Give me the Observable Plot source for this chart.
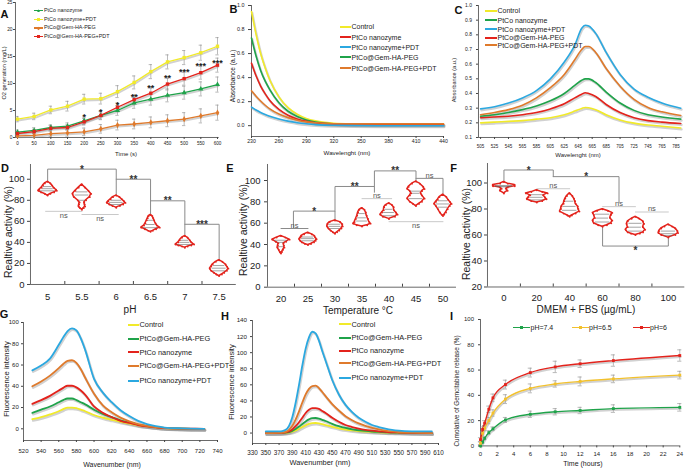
<!DOCTYPE html>
<html><head><meta charset="utf-8">
<script src="https://cdn.jsdelivr.net/npm/d3@7"></script>
<script src="https://cdn.jsdelivr.net/npm/@observablehq/plot@0.6"></script>
<style>
body{margin:0;background:#fff;}
#root{position:relative;width:685px;height:470px;overflow:hidden;background:#fff;font-family:"Liberation Sans",Arial,sans-serif;color:#222;}
.t,.lg{position:absolute;white-space:nowrap;line-height:1;}
</style></head><body><div id="root"></div>
<script>
// ---------------- DATA ----------------
// Panel A: O2 generation
const timeA = [0,50,100,150,200,250,300,350,400,450,500,550,600];
const o2Nanozyme    = [1.0,1.3,1.85,2.1,3.1,4.1,5.0,6.4,7.1,7.8,8.3,9.0,9.8];
const o2NanozymePDT = [3.4,3.9,5.1,5.8,7.1,7.2,8.5,10.2,12.2,14.0,14.8,15.7,16.9];
const o2Gem         = [0.3,0.4,0.7,0.85,1.05,1.6,2.3,2.5,2.8,3.1,3.4,4.0,4.6];
const o2GemPDT      = [0.74,1.1,1.7,1.85,2.9,4.1,5.6,7.0,8.2,9.9,10.9,12.0,13.4];
const errNanozyme    = [0.4,0.5,0.5,0.6,0.7,0.8,0.9,1.0,1.1,1.2,1.2,1.3,1.4];
const errNanozymePDT = [0.5,0.6,0.7,0.9,0.9,1.0,1.1,1.2,1.3,1.3,1.3,1.4,1.6];
const errGem         = [0.3,0.4,0.5,0.6,0.7,0.8,0.9,0.9,1.0,1.1,1.2,1.3,1.4];
const errGemPDT      = [0.4,0.4,0.5,0.5,0.6,0.7,0.8,0.9,1.0,1.1,1.2,1.2,1.3];
const starTimeA  = [200,250,300,350,400,450,500,550,600];
const starLevelA = [4.3,5.2,6.5,8.0,9.7,11.4,12.5,13.7,14.2];
const starTextA  = ["*","*","*","**","**","**","***","***","***"];
const labelsA = ["PtCo nanozyme","PtCo nanozyme+PDT","PtCo@Gem-HA-PEG","PtCo@Gem-HA-PEG+PDT"];

// Panel B: absorbance 230-440 nm
const waveB = [230,235,240,245,250,260,270,280,290,300,310,320,340,370,400,440];
const absB_control = [0.95,0.76,0.60,0.48,0.38,0.24,0.15,0.095,0.06,0.04,0.028,0.02,0.015,0.013,0.013,0.013];
const absB_nano    = [0.52,0.415,0.33,0.265,0.21,0.135,0.087,0.056,0.036,0.024,0.017,0.013,0.01,0.009,0.009,0.009];
const absB_nanoPDT = [0.155,0.13,0.11,0.093,0.078,0.055,0.038,0.025,0.016,0.009,0.005,0.003,0.001,0,0,0];
const absB_gem     = [0.73,0.58,0.46,0.37,0.30,0.19,0.12,0.077,0.048,0.03,0.02,0.014,0.008,0.006,0.005,0.005];
const absB_gemPDT  = [0.29,0.245,0.205,0.17,0.14,0.097,0.067,0.046,0.032,0.024,0.019,0.016,0.015,0.015,0.015,0.015];
const labelsB = ["Control","PtCo nanozyme","PtCo nanozyme+PDT","PtCo@Gem-HA-PEG","PtCo@Gem-HA-PEG+PDT"];

// Panel C: absorbance 505-795 nm
const waveC = [505,525,545,565,585,605,625,640,650,655,660,670,685,705,725,745,765,792];
const absC_control = [0.20,0.205,0.21,0.215,0.225,0.235,0.255,0.28,0.298,0.305,0.303,0.29,0.255,0.22,0.198,0.185,0.177,0.165];
const absC_nano    = [0.245,0.255,0.27,0.29,0.315,0.35,0.40,0.455,0.49,0.50,0.50,0.475,0.41,0.335,0.285,0.255,0.24,0.225];
const absC_nanoPDT = [0.295,0.31,0.335,0.37,0.42,0.50,0.615,0.73,0.845,0.865,0.86,0.81,0.68,0.53,0.43,0.375,0.335,0.30];
const absC_gem     = [0.235,0.24,0.245,0.255,0.27,0.295,0.33,0.37,0.395,0.405,0.40,0.38,0.325,0.27,0.235,0.215,0.205,0.195];
const absC_gemPDT  = [0.255,0.27,0.29,0.32,0.37,0.44,0.53,0.63,0.70,0.72,0.72,0.68,0.57,0.45,0.36,0.305,0.275,0.25];
const labelsC = ["Control","PtCo nanozyme","PtCo nanozyme+PDT","PtCo@Gem-HA-PEG","PtCo@Gem-HA-PEG+PDT"];

// Panel D: relative activity vs pH (violin profiles: [value, relative density])
const pHs = [5,5.5,6,6.5,7,7.5];
const violinD = [
  [[97.5,0],[96,0.3],[94,0.5],[92,0.65],[90,0.9],[89,1],[87.5,0.7],[86,0.3],[84.5,0]],
  [[95,0],[92,0.35],[89,0.7],[86,1],[83,0.85],[80,0.45],[78,0.25],[76,0.3],[74,0.35],[72.5,0.2],[71,0]],
  [[84.5,0],[83,0.35],[81,0.6],[79,0.85],[77.5,1],[76,0.75],[74.5,0.4],[73,0]],
  [[66,0],[65,0.2],[63,0.3],[61,0.4],[58,0.55],[56,0.7],[54,1],[52.5,0.6],[51,0.25],[50,0]],
  [[46,0],[44.5,0.3],[42,0.55],[40,0.7],[38,1],[37,0.7],[36,0.3],[35,0]],
  [[23,0],[21.5,0.35],[19,0.7],[17,0.85],[15,1],[13,0.85],[11,0.55],[9.5,0.3],[8,0]]
];
const q1D = [89,80,76,54,38,13], medD = [91,85,78,57,40,15.5], q3D = [93,88,80,61,42,18];
const bracketsD = [
  {x1:5,x2:6,y:109.6,yl:97.5,yr:85,label:"*"},
  {x1:6,x2:6.5,y:100,yr:66.5,label:"**"},
  {x1:6.5,x2:7,y:79.5,yr:46.5,label:"**"},
  {x1:7,x2:7.5,y:57.2,yr:23,label:"***"},
  {x1:4.97,x2:5.5,y:69.5,light:true,label:"ns",pos:"below"},
  {x1:5.5,x2:6.03,y:66.5,light:true,label:"ns",pos:"below"}
];

// Panel E: relative activity vs temperature
const temps = [20,25,30,35,40,45,50];
const violinE = [
  [[48,0],[46.5,0.5],[44.5,1],[42.5,0.6],[41,0.3],[39,0.35],[37,0.4],[35,0.25],[33,0.12],[31.5,0]],
  [[51,0],[49.5,0.45],[48,0.75],[46.5,0.85],[45,1],[43.5,0.9],[42,0.7],[40.5,0.35],[39.5,0]],
  [[62.5,0],[61,0.6],[59,0.85],[57,0.9],[55,0.75],[53,0.5],[51.5,0.25],[50,0]],
  [[74,0],[72.5,0.3],[70,0.45],[67,0.55],[64,0.7],[61,0.85],[59.5,1],[58,0.6],[56.8,0]],
  [[78.6,0],[77,0.35],[75,0.55],[72,0.6],[70,0.8],[68,1],[66,0.7],[64,0]],
  [[99,0],[97,0.45],[94,0.85],[92,1],[90,0.7],[88,0.55],[86,0.7],[83,1],[80,0.7],[78,0.35],[76,0]],
  [[86.7,0],[84.5,0.4],[82,0.6],[80,0.8],[78,1],[76,0.8],[73,0.55],[70,0.35],[68,0.15],[66.7,0]]
];
const q1E = [38,43.5,55,62,67,83,75], medE = [42,45.5,57,65,70,88,78], q3E = [44,47,59,69,73,90,81];
const bracketsE = [
  {x1:20,x2:25,y:55,label:"ns"},
  {x1:22.3,x2:30,y:71.3,yl:55,yr:62.5,label:"*"},
  {x1:30,x2:37.3,y:94.4,yl:71.3,yr:89,label:"**"},
  {x1:35,x2:40.5,y:83,light:true,label:"ns"},
  {x1:37.3,x2:45,y:109,yl:94.4,yr:99.5,label:"**"},
  {x1:45,x2:50,y:102,yr:87.5,label:"ns"},
  {x1:40,x2:50,y:61.4,light:true,label:"ns",pos:"below"}
];

// Panel F: relative activity vs DMEM + FBS
const concs = [0,20,40,60,80,100];
const violinF = [
  [[100.8,0],[99.5,0.35],[98.5,1],[97.5,1],[96.5,0.35],[95.5,0.2],[94,0.35],[92,0]],
  [[94.4,0],[93,0.5],[92,1],[90.5,0.6],[89,0.75],[87.5,0.9],[86,0.5],[85,0]],
  [[92,0],[90,0.25],[88,0.4],[86,0.5],[84,0.55],[82,0.75],[80,0.8],[78,0.9],[76.5,0.55],[75,0.2],[74,0]],
  [[79.8,0],[78.5,0.5],[77,0.9],[75.5,0.8],[73,0.7],[71,0.9],[69,0.8],[67.5,0.4],[66.4,0]],
  [[74,0],[72.5,0.35],[70.5,0.7],[68.5,0.8],[66,0.7],[64,0.9],[62,0.7],[61,0.4],[60,0]],
  [[68,0],[66.5,0.35],[65,0.65],[63,0.85],[61.5,0.9],[60,0.65],[58,0]]
];
const q1F = [97,87,79,70,63,59.5], medF = [97.5,89,82,73,66,61], q3F = [98,91,86,76,69,63];
const bracketsF = [
  {x1:0,x2:30,y:110,yl:101,yr:104.9,label:"*"},
  {x1:30,x2:70,y:104.9,yr:85,label:"*"},
  {x1:20,x2:40,y:95.6,light:true,label:"ns"},
  {x1:60,x2:80,y:81.8,light:true,label:"ns"},
  {x1:80,x2:100,y:77.7,light:true,label:"ns"},
  {x1:60,x2:100,y:51.5,yl:66.4,yr:58,label:"*",pos:"below"}
];

// Panel G: fluorescence 530-725 nm
const waveG = [530,540,550,560,565,570,575,580,585,590,600,610,620,630,640,650,660,670,680,700,725];
const flG_control = [9,11,13.5,16.5,18.5,20,20,19.5,18,16.5,13,10.5,8.5,6.5,4.8,3.3,2.2,1.3,0.7,0.2,0];
const flG_gem     = [15,18,21,25,27,28.5,28.5,27,25,23,18,14,11,8,6,4,2.5,1.5,0.8,0.2,0];
const flG_nano    = [23.5,27,31,36,38.5,40.5,40.5,39,36,32,21,15,11,7.5,5.5,3.5,2.2,1.3,0.6,0.2,0];
const flG_gemPDT  = [40,44.5,50,57,61,64,64.5,62,56,48,33,22,15.5,10.5,7,4.5,2.8,1.6,0.8,0.2,0];
const flG_nanoPDT = [55,59.5,66,79,86,92,94.5,92.5,85,74,47,34,25,17.5,12,7.5,4.5,2.5,1.2,0.4,0];
const labelsGH = ["Control","PtCo@Gem-HA-PEG","PtCo nanozyme","PtCo@Gem-HA-PEG+PDT","PtCo nanozyme+PDT"];

// Panel H: fluorescence 350-600 nm
const waveH = [350,360,370,375,380,385,390,395,400,405,410,415,420,425,430,435,440,450,460,470,480,490,500,510,520,530,540,550,570,600];
const flH_control = [0,0,0,0.1,0.3,0.8,1.8,3.3,5.3,7.5,9.6,11.3,12.3,12.5,12,11,10,7.8,5.9,4.4,3.3,2.5,1.9,1.4,1,0.7,0.5,0.4,0.2,0];
const flH_gem     = [0,0,0,0.2,0.5,1.2,2.7,5,8,11.3,14.5,17,18.5,18.7,18,16.5,15,11.5,8.5,6.3,4.7,3.5,2.6,1.9,1.4,1,0.7,0.5,0.2,0];
const flH_nano    = [0,0,0.1,0.3,0.8,2,4.5,8.5,13.5,19,25,29,31,31,30,27.5,25,19,14,10,7.5,5.5,4,3,2,1.5,1,0.7,0.3,0];
const flH_gemPDT  = [0,0,0.2,0.5,1.5,4,9,17,27,38,48,55,58.5,59,56,51,46,36,28,21,16,12,9,6.5,4.5,3,2,1.3,0.5,0];
const flH_nanoPDT = [2,2,2,2.5,4,9,20,38,60,84,105,119,126,124,115,102,90,66,48,35,26,19,14,10,7.5,5.5,4,3,2.2,2];

// Panel I: cumulative gemcitabine release
const timeI = [0,0.25,0.5,1,1.5,3,6,9,12,16,24];
const rel74 = [0,3,6,10.5,13.5,20.5,25,27,28,29.5,30.5];
const rel65 = [2,10,14,20,26,37,45.5,49,51,53,56];
const rel6  = [5,13,18,29,38,48.5,58,62.5,65,67.5,71.5];
const err74 = [0.5,1,1.2,1.5,1.5,2,2.5,2.5,2.5,3,3];
const err65 = [1,1.5,2,2.5,2.5,3.5,3.5,2.5,3.5,3,3];
const err6  = [1.5,2,2,2.5,3,3.5,3.5,4.5,3,4.5,4.5];
const labelsI = ["pH=7.4","pH=6.5","pH=6"];

// ---------------- DRAWING ----------------
const root = document.getElementById("root");
const FONT = '"Liberation Sans", Arial, sans-serif';
const NARROW = '"Liberation Sans Narrow", "Liberation Sans", Arial, sans-serif';
const C = {yellow:"#f1ea2a", green:"#1fa34a", red:"#e3231c", blue:"#2ba8e0", orange:"#df7a2c"};
const AX = "#444", TX = "#222";
const M = {l:40, r:14, t:12, b:30};

function panel(fr, xd, yd, marks, font = FONT) {
  const w = fr.x1 - fr.x0, h = fr.y1 - fr.y0;
  const svg = Plot.plot({
    width: w + M.l + M.r, height: h + M.t + M.b,
    marginLeft: M.l, marginRight: M.r, marginTop: M.t, marginBottom: M.b,
    x: {domain: xd}, y: {domain: yd},
    style: {background: "transparent", fontFamily: font, overflow: "visible", color: AX},
    marks
  });
  Object.assign(svg.style, {position: "absolute", left: (fr.x0 - M.l) + "px", top: (fr.y0 - M.t) + "px",
    maxWidth: "none", width: (w + M.l + M.r) + "px", height: (h + M.t + M.b) + "px"});
  root.appendChild(svg);
}
function axes(xd, yd, o) {
  return [
    Plot.ruleX([xd[0]], {stroke: AX, strokeWidth: 0.8}),
    Plot.ruleY([yd[0]], {stroke: AX, strokeWidth: 0.8}),
    Plot.axisX({ticks: o.xt, tickSize: o.xts ?? 2, tickPadding: o.xtp, fontSize: o.xfs, label: null, stroke: AX, fill: TX}),
    Plot.axisY({ticks: o.yt, tickSize: o.yts ?? 2, tickPadding: o.ytp, fontSize: o.yfs, label: null, stroke: AX, fill: TX})
  ];
}
function curves(xs, series, sw, curve) {
  const out = [];
  const rowsOf = s => xs.map((x, i) => ({x, y: s.v[i]}));
  for (const s of series) out.push(Plot.line(rowsOf(s), {x: "x", y: "y", stroke: "#999", strokeOpacity: 0.45, strokeWidth: sw + 0.6, dx: 0.8, dy: 1.4, curve}));
  for (const s of series) out.push(Plot.line(rowsOf(s), {x: "x", y: "y", stroke: s.c, strokeWidth: sw, curve}));
  return out;
}
function errorBars(xs, series, cap) {
  const out = [];
  for (const s of series) {
    const rows = xs.map((x, i) => ({x, y: s.v[i], e: s.e[i]}));
    out.push(Plot.ruleX(rows, {x: "x", y1: d => d.y - d.e, y2: d => d.y + d.e, stroke: "#8c8c8c", strokeWidth: 0.6}));
    out.push(Plot.ruleY(rows, {y: d => d.y + d.e, x1: d => d.x - cap, x2: d => d.x + cap, stroke: "#8c8c8c", strokeWidth: 0.6}));
    out.push(Plot.ruleY(rows, {y: d => d.y - d.e, x1: d => d.x - cap, x2: d => d.x + cap, stroke: "#8c8c8c", strokeWidth: 0.6}));
  }
  return out;
}
function widthAt(prof, y) {
  for (let i = 0; i < prof.length - 1; i++) {
    const [ya, wa] = prof[i], [yb, wb] = prof[i + 1];
    if (y <= ya && y >= yb) return wa + (wb - wa) * (ya - y) / (ya - yb || 1);
  }
  return 0;
}
function violins(centers, profiles, W, q1, med, q3) {
  const rows = [];
  centers.forEach((c, i) => profiles[i].forEach(([y, w]) => rows.push({g: i, y, xl: c - w * W, xr: c + w * W})));
  const stats = [];
  centers.forEach((c, i) => [q1[i], med[i], q3[i]].forEach((y, k) =>
    stats.push({y, c, hw: Math.max(0.25, widthAt(profiles[i], y) * 0.78) * W, k})));
  const edge = rows.filter(d => d.xl !== d.xr);
  return [
    Plot.areaX(rows, {y: "y", x1: "xl", x2: "xr", z: "g", fill: "white", stroke: C.red, strokeWidth: 1.5, strokeLinejoin: "round"}),
    Plot.ruleY(stats, {y: "y", x1: d => d.c - d.hw, x2: d => d.c + d.hw, stroke: "#666", strokeWidth: 0.6, strokeDasharray: d => d.k === 1 ? "2.5,1.2" : "1,1.2"}),
    Plot.dot(edge, {x: "xl", y: "y", r: 0.9, fill: C.red}),
    Plot.dot(edge, {x: "xr", y: "y", r: 0.9, fill: C.red}),
    Plot.dot(rows.filter(d => d.xl === d.xr), {x: "xl", y: "y", r: 1, fill: C.red})
  ];
}
function brackets(list) {
  const dark = [], light = [], labs = [];
  list.forEach((b, i) => {
    const pts = [];
    if (b.yl != null) pts.push([b.x1, b.yl]);
    pts.push([b.x1, b.y], [b.x2, b.y]);
    if (b.yr != null) pts.push([b.x2, b.yr]);
    pts.forEach(([x, y]) => (b.light ? light : dark).push({g: i, x, y}));
    labs.push({x: (b.x1 + b.x2) / 2, y: b.y, t: b.label, below: b.pos === "below", star: b.label !== "ns"});
  });
  return [
    Plot.line(light, {x: "x", y: "y", z: "g", stroke: "#c9c9c9", strokeWidth: 1}),
    Plot.line(dark, {x: "x", y: "y", z: "g", stroke: "#8a8a8a", strokeWidth: 1}),
    Plot.text(labs.filter(d => d.star && !d.below), {x: "x", y: "y", text: "t", fontSize: 10, fontWeight: "bold", fill: "#333", lineAnchor: "bottom", dy: 3.5}),
    Plot.text(labs.filter(d => d.star && d.below), {x: "x", y: "y", text: "t", fontSize: 10, fontWeight: "bold", fill: "#333", lineAnchor: "top", dy: 1}),
    Plot.text(labs.filter(d => !d.star && !d.below), {x: "x", y: "y", text: "t", fontSize: 7.5, fill: "#555", lineAnchor: "bottom", dy: -0.5}),
    Plot.text(labs.filter(d => !d.star && d.below), {x: "x", y: "y", text: "t", fontSize: 7.5, fill: "#555", lineAnchor: "top", dy: 1})
  ];
}
function catAxes(between, centers, ticksY, padX, padY) {
  return [
    Plot.axisX({ticks: between, tickSize: -3, tickFormat: () => "", label: null, stroke: AX}),
    Plot.axisX({ticks: centers, tickSize: 0, tickPadding: padX, fontSize: 9.5, label: null, fill: TX, tickFormat: d => String(d)}),
    Plot.axisY({ticks: ticksY, tickSize: 3, tickPadding: padY, fontSize: 9.5, label: null, stroke: AX, fill: TX, tickFormat: d => String(d)})
  ];
}
function txt(s, cx, cy, fs, o = {}) {
  const d = document.createElement("div");
  d.className = "t"; d.textContent = s;
  Object.assign(d.style, {left: cx + "px", top: cy + "px", fontSize: fs + "px",
    fontWeight: o.bold ? "bold" : "normal", color: o.color || "#222", fontFamily: o.font || FONT,
    transform: "translate(-50%,-50%)" + (o.rot ? " rotate(-90deg)" : "")});
  root.appendChild(d);
}
function legend(labels, colors, pos, len, fs, o = {}) {
  labels.forEach((lab, i) => {
    const [x, y] = pos[i];
    const d = document.createElement("div"); d.className = "lg";
    Object.assign(d.style, {left: x + "px", top: (y - fs / 2) + "px", fontSize: fs + "px", height: fs + "px",
      display: "flex", alignItems: "center", fontFamily: FONT, color: "#222"});
    const sw = document.createElement("span");
    const lw = o.lw || 2;
    Object.assign(sw.style, {display: "inline-block", width: len + "px", height: lw + "px", background: colors[i], marginRight: (o.gap ?? 1) + "px", position: "relative"});
    if (o.marker) {
      const m = document.createElement("span"), ms = o.marker;
      Object.assign(m.style, {position: "absolute", left: (len / 2 - ms / 2) + "px", top: (lw / 2 - ms / 2) + "px", width: ms + "px", height: ms + "px", background: colors[i]});
      const sh = o.shapes ? o.shapes[i] : "square";
      if (sh === "diamond") m.style.transform = "rotate(45deg) scale(0.85)";
      if (sh === "triangle") m.style.clipPath = "polygon(50% 0,100% 100%,0 100%)";
      sw.appendChild(m);
    }
    d.appendChild(sw); d.appendChild(document.createTextNode(lab));
    root.appendChild(d);
  });
}

// ---- A ----
{
  const xd = [-6, 605], yd = [0, 25];
  const series = [
    {v: o2Nanozyme, e: errNanozyme, c: C.green, s: "triangle"},
    {v: o2NanozymePDT, e: errNanozymePDT, c: C.yellow, s: "square"},
    {v: o2Gem, e: errGem, c: C.orange, s: "diamond"},
    {v: o2GemPDT, e: errGemPDT, c: C.red, s: "square"}
  ];
  const dots = series.map(s => Plot.dot(timeA.map((x, i) => ({x, y: s.v[i]})), {x: "x", y: "y", symbol: s.s, fill: s.c, r: 1.9}));
  const stars = starTimeA.map((x, i) => ({x, y: starLevelA[i], t: starTextA[i]}));
  panel({x0: 15, x1: 218.67, y0: 2, y1: 137}, xd, yd, [
    ...axes(xd, yd, {xt: timeA, xtp: 2.4, xfs: 4.6, yt: [0,5,10,15,20,25], ytp: 1, yfs: 4.8}),
    ...errorBars(timeA, series, 5),
    ...curves(timeA, series, 1.3, "linear"),
    ...dots,
    Plot.text(stars, {x: "x", y: "y", text: "t", fontSize: 9, fontWeight: "bold", fill: "#222", dy: 2.5})
  ]);
  legend(labelsA, [C.green, C.yellow, C.orange, C.red], [[34,10.7],[34,19.3],[34,28],[34,36.3]], 9, 5.4,
    {marker: 3, shapes: ["triangle","square","diamond","square"], lw: 1.3});
  txt("O2 generation (mg/L)", 5, 73, 5.6, {rot: true});
  txt("Time (s)", 126, 153.5, 6);
}
// ---- B ----
{
  const xd = [230, 440], yd = [-0.09, 1];
  const series = [
    {v: absB_control, c: C.yellow}, {v: absB_gem, c: C.green}, {v: absB_nano, c: C.red},
    {v: absB_gemPDT, c: C.orange}, {v: absB_nanoPDT, c: C.blue}
  ];
  panel({x0: 250.7, x1: 442.7, y0: 5, y1: 136}, xd, yd, [
    ...axes(xd, yd, {xt: [230,260,290,320,350,380,410,440], xtp: 1.2, xfs: 5.2, yt: [0,0.2,0.4,0.6,0.8,1], yts: 3, ytp: 4, yfs: 5.4}),
    ...curves(waveB, series, 1.6, "monotone-x")
  ]);
  legend(labelsB, [C.yellow, C.red, C.blue, C.green, C.orange], [[340,26.7],[340,37.3],[340,47],[340,57],[340,68.3]], 11, 7, {gap: 0.5});
  txt("Absorbance (a.u.)", 232.5, 76, 6.6, {rot: true});
  txt("Wavelenght (nm)", 347, 152.5, 6.2);
}
// ---- C ----
{
  const xd = [502, 794], yd = [0.1, 1];
  const series = [
    {v: absC_control, c: C.yellow}, {v: absC_gem, c: C.red}, {v: absC_nano, c: C.green},
    {v: absC_gemPDT, c: C.orange}, {v: absC_nanoPDT, c: C.blue}
  ];
  const ticks = d3.range(505, 786, 20);
  panel({x0: 478, x1: 681.7, y0: 5, y1: 137}, xd, yd, [
    ...axes(xd, yd, {xt: ticks, xtp: 5, xfs: 4.5, yt: [0.1,0.2,0.3,0.4,0.5,0.6,0.7,0.8,0.9,1], ytp: 4.5, yfs: 5}),
    ...curves(waveC, series, 1.6, "monotone-x")
  ]);
  legend(labelsC, [C.yellow, C.green, C.blue, C.red, C.orange], [[485,10.7],[485,20],[485,29.3],[485,37.5],[485,45.3]], 12, 7, {gap: 0.5});
  txt("Absorbance (a.u.)", 455, 80, 5.6, {rot: true});
  txt("Wavelenght (nm)", 578, 155, 6);
}
// ---- D ----
{
  const xd = [4.75, 7.75], yd = [0, 114];
  panel({x0: 30.3, x1: 236.1, y0: 164, y1: 284}, xd, yd, [
    Plot.ruleX([xd[0]], {stroke: AX, strokeWidth: 0.8}),
    Plot.ruleY([yd[0]], {stroke: AX, strokeWidth: 0.8}),
    ...catAxes([5.25,5.75,6.25,6.75,7.25], pHs, [0,20,40,60,80,100], 9, 3),
    ...brackets(bracketsD),
    ...violins(pHs, violinD, 0.135, q1D, medD, q3D)
  ], NARROW);
  txt("Realtive activity (%)", 8, 232, 10.5, {rot: true});
  txt("pH", 130, 310, 10);
}
// ---- E ----
{
  const xd = [17.5, 52.5], yd = [0, 115];
  panel({x0: 267, x1: 456, y0: 164, y1: 286.7}, xd, yd, [
    Plot.ruleX([xd[0]], {stroke: AX, strokeWidth: 0.8}),
    Plot.ruleY([yd[0]], {stroke: AX, strokeWidth: 0.8}),
    ...catAxes([22.5,27.5,32.5,37.5,42.5,47.5], temps, [0,20,40,60,80,100], 8, 4),
    ...brackets(bracketsE),
    ...violins(temps, violinE, 1.6, q1E, medE, q3E)
  ], NARROW);
  txt("Realtive activity (%)", 243, 230, 10.5, {rot: true});
  txt("Temperature °C", 358, 311, 10);
}
// ---- F ----
{
  const xd = [-10, 110], yd = [20, 115];
  panel({x0: 486.9, x1: 684.2, y0: 162.5, y1: 286}, xd, yd, [
    Plot.ruleX([xd[0]], {stroke: AX, strokeWidth: 0.8}),
    Plot.ruleY([yd[0]], {stroke: AX, strokeWidth: 0.8}),
    ...catAxes([10,30,50,70,90], concs, [20,40,60,80,100], 7.5, 2.5),
    ...brackets(bracketsF),
    ...violins(concs, violinF, 6.6, q1F, medF, q3F)
  ], NARROW);
  txt("Realtive activity (%)", 466, 234, 10.5, {rot: true});
  txt("DMEM + FBS (µg/mL)", 586, 310, 10);
}
// ---- G ----
{
  const xd = [520, 740], yd = [-11, 100];
  const series = [
    {v: flG_control, c: C.yellow}, {v: flG_gem, c: C.green}, {v: flG_nano, c: C.red},
    {v: flG_gemPDT, c: C.orange}, {v: flG_nanoPDT, c: C.blue}
  ];
  panel({x0: 23, x1: 217, y0: 322, y1: 440}, xd, yd, [
    ...axes(xd, yd, {xt: d3.range(520, 741, 20), xtp: 6, xfs: 6, yt: [0,20,40,60,80,100], ytp: 2.7, yfs: 6}),
    ...curves(waveG, series, 1.8, "monotone-x")
  ]);
  legend(labelsGH, [C.yellow, C.green, C.red, C.orange, C.blue], [[128,325],[128,339],[128,352.3],[128,365.7],[128,381]], 11, 7.4, {gap: 0.5});
  txt("Fluorescence intensity", 6.5, 379, 7.6, {rot: true});
  txt("Wavenumber (nm)", 112, 464, 7);
}
// ---- H ----
{
  const xd = [330, 610], yd = [-13, 140];
  const series = [
    {v: flH_control, c: C.yellow}, {v: flH_gem, c: C.green}, {v: flH_nano, c: C.red},
    {v: flH_gemPDT, c: C.orange}, {v: flH_nanoPDT, c: C.blue}
  ];
  panel({x0: 252.3, x1: 438.3, y0: 320, y1: 443}, xd, yd, [
    ...axes(xd, yd, {xt: d3.range(330, 611, 20), xtp: 4.7, xfs: 6.3, yt: [0,20,40,60,80,100,120,140], ytp: 3.5, yfs: 6.2}),
    ...curves(waveH, series, 1.8, "monotone-x")
  ]);
  legend(labelsGH, [C.yellow, C.green, C.red, C.orange, C.blue], [[339,324.3],[339,337.7],[339,351],[339,363.5],[339,377.7]], 12, 7.4, {gap: 0.5});
  txt("Fluorescence intensity", 232, 382, 7.6, {rot: true});
  txt("Wavenumber (nm)", 320, 463, 7.4);
}
// ---- I ----
{
  const xd = [0, 24], yd = [0, 100];
  const series = [
    {v: rel74, e: err74, c: C.green}, {v: rel65, e: err65, c: "#f2c12e"}, {v: rel6, e: err6, c: C.red}
  ];
  const dots = series.map(s => Plot.dot(timeI.map((x, i) => ({x, y: s.v[i]})), {x: "x", y: "y", symbol: "square", fill: s.c, r: 1.6}));
  panel({x0: 480, x1: 679.3, y0: 319.3, y1: 445.7}, xd, yd, [
    ...axes(xd, yd, {xt: d3.range(0, 25, 2), xtp: 4, xfs: 6, yt: [0,20,40,60,80,100], ytp: 4.5, yfs: 6}),
    ...errorBars(timeI, series, 0.25),
    ...curves(timeI, series, 1.4, "monotone-x"),
    ...dots
  ]);
  legend(labelsI, [C.green, "#f2c12e", C.red], [[513,327.7],[571.5,327.7],[632.5,327.7]], 17, 7, {marker: 3, lw: 1.4, gap: 0.5});
  txt("Cumolative of Gemcitabine release (%)", 457, 391, 6.4, {rot: true});
  txt("Time (hours)", 583, 463, 7);
}
// panel letters
[["A",4.5,13.5],["B",233.5,9],["C",458.5,10],["D",5,168],["E",230,168],["F",453.5,167.5],["G",4,314],["H",225,316],["I",451.5,316]]
  .forEach(([s, x, y]) => txt(s, x, y, 11, {bold: true, color: "#111"}));
</script></body></html>
